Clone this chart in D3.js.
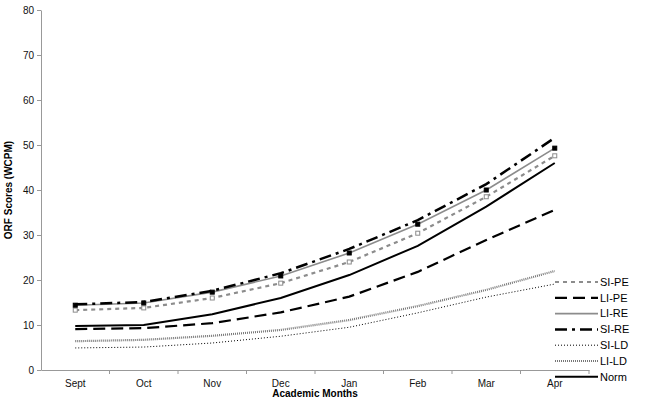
<!DOCTYPE html>
<html>
<head>
<meta charset="utf-8">
<script src="https://cdn.jsdelivr.net/npm/d3@7"></script>
<style>
  body { margin: 0; background: #fff; }
  svg, svg text { font-family: "Liberation Sans", Arial, sans-serif; }
</style>
</head>
<body>
<div id="chart"></div>
<script>
// data
const months = ['Sept', 'Oct', 'Nov', 'Dec', 'Jan', 'Feb', 'Mar', 'Apr'];
const yTicks = [0, 10, 20, 30, 40, 50, 60, 70, 80];

const siPE = [13.3, 13.8, 16.0, 19.3, 24.0, 30.4, 38.5, 47.6];
const liPE = [9.1, 9.3, 10.4, 12.8, 16.3, 21.8, 28.9, 35.6];
const liRE = [14.4, 14.9, 17.3, 20.9, 26.0, 32.4, 40.0, 49.3];
const siRE = [14.6, 15.1, 17.6, 21.5, 26.9, 33.3, 41.3, 51.6];
const siLD = [4.9, 5.1, 6.0, 7.5, 9.5, 12.7, 16.2, 19.1];
const liLD = [6.4, 6.7, 7.6, 8.9, 11.1, 14.2, 17.8, 22.0];
const norm = [9.8, 10.0, 12.4, 16.0, 21.1, 27.6, 36.3, 46.0];

const series = [
  { name: 'SI-PE', values: siPE, color: '#8c8c8c', width: 2.2, dash: '4,4', marker: 'open' },
  { name: 'LI-PE', values: liPE, color: '#000', width: 2.2, dash: '12,6', marker: null },
  { name: 'LI-RE', values: liRE, color: '#8c8c8c', width: 1.6, dash: null, marker: 'filled' },
  { name: 'SI-RE', values: siRE, color: '#000', width: 2.5, dash: '12,5,3,5', marker: null },
  { name: 'SI-LD', values: siLD, color: '#000', width: 1, dash: '1,2', marker: null },
  { name: 'LI-LD', values: liLD, color: '#777', width: 2.2, dash: '1,1', marker: null },
  { name: 'Norm', values: norm, color: '#000', width: 2, dash: null, marker: null }
];

const width = 656, height = 408;
const margin = { top: 10, right: 67, bottom: 38, left: 41 };

const svg = d3.select('#chart').append('svg')
  .attr('width', width)
  .attr('height', height);

const xScale = d3.scaleBand()
  .domain(months)
  .range([margin.left, width - margin.right]);

const yScale = d3.scaleLinear()
  .domain([0, 80])
  .range([height - margin.bottom, margin.top]);

const xPos = m => xScale(m) + xScale.bandwidth() / 2;

// y axis
const yAxis = svg.append('g')
  .attr('transform', `translate(${margin.left},0)`)
  .call(d3.axisLeft(yScale).tickValues(yTicks).tickSize(4).tickPadding(3).tickSizeOuter(0))
  .attr('font-family', null);
yAxis.select('.domain').attr('stroke', '#999');
yAxis.selectAll('.tick line').attr('stroke', '#999');
yAxis.selectAll('.tick text').attr('font-size', 10).attr('fill', '#111');

// x axis
const xAxis = svg.append('g')
  .attr('transform', `translate(0,${height - margin.bottom})`)
  .call(d3.axisBottom(xScale).tickSize(0).tickPadding(10).tickSizeOuter(0))
  .attr('font-family', null);
xAxis.select('.domain').attr('stroke', '#999');
xAxis.selectAll('.tick text').attr('font-size', 10).attr('fill', '#111');
xAxis.selectAll('.boundary')
  .data(months.map(m => xScale(m)).concat([xScale.range()[1]]).slice(1))
  .join('line')
  .attr('class', 'boundary')
  .attr('x1', d => d).attr('x2', d => d)
  .attr('y1', 0).attr('y2', 4)
  .attr('stroke', '#999');

// axis titles
svg.append('text')
  .attr('x', (margin.left + width - margin.right) / 2)
  .attr('y', height - 11)
  .attr('text-anchor', 'middle')
  .attr('font-size', 10)
  .attr('font-weight', 'bold')
  .text('Academic Months');

svg.append('text')
  .attr('transform', `translate(12,${(margin.top + height - margin.bottom) / 2}) rotate(-90)`)
  .attr('text-anchor', 'middle')
  .attr('font-size', 10)
  .attr('font-weight', 'bold')
  .text('ORF Scores (WCPM)');

// lines
const line = d3.line()
  .x((d, i) => xPos(months[i]))
  .y(d => yScale(d));

// draw order so overlapping lines stack like the reference
const drawOrder = ['SI-LD', 'LI-LD', 'LI-PE', 'Norm', 'SI-PE', 'LI-RE', 'SI-RE'];
drawOrder.forEach(name => {
  const s = series.find(d => d.name === name);
  svg.append('path')
    .datum(s.values)
    .attr('d', line)
    .attr('fill', 'none')
    .attr('stroke', s.color)
    .attr('stroke-width', s.width)
    .attr('stroke-dasharray', s.dash);

  if (s.marker) {
    svg.append('g')
      .selectAll('rect')
      .data(s.values)
      .join('rect')
      .attr('x', (d, i) => xPos(months[i]) - 2)
      .attr('y', d => yScale(d) - 2)
      .attr('width', 4)
      .attr('height', 4)
      .attr('fill', s.marker === 'filled' ? '#000' : '#fff')
      .attr('stroke', s.marker === 'filled' ? '#000' : '#8c8c8c')
      .attr('stroke-width', 1);
  }
});

// legend
const legend = svg.append('g')
  .attr('transform', 'translate(555,282)')
  .selectAll('g')
  .data(series)
  .join('g')
  .attr('transform', (d, i) => `translate(0,${i * 15.8})`);

legend.append('line')
  .attr('x1', 0).attr('x2', 43)
  .attr('y1', 0).attr('y2', 0)
  .attr('stroke', d => d.color)
  .attr('stroke-width', d => d.width)
  .attr('stroke-dasharray', d => d.dash);

legend.append('text')
  .attr('x', 45)
  .attr('y', 0)
  .attr('dy', '0.35em')
  .attr('font-size', 11)
  .text(d => d.name);
</script>
</body>
</html>
